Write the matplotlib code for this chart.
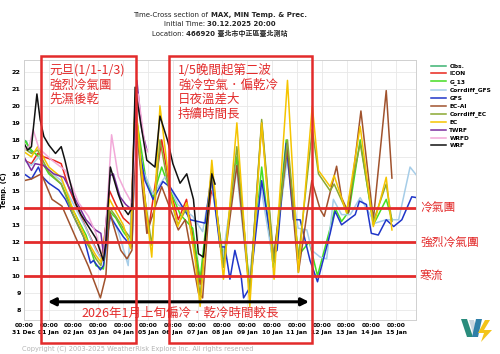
import matplotlib
matplotlib.use('Agg')
import matplotlib.pyplot as plt
from matplotlib.patches import Rectangle, Polygon

plt.rcParams['font.family'] = ['DejaVu Sans', 'Noto Sans CJK TC']
CJK = ['Noto Sans CJK TC', 'DejaVu Sans']
RED = '#e32b2b'

# x axis = days after 31 Dec 2025 00:00
tick_dates = ['31 Dec', '01 Jan', '02 Jan', '03 Jan', '04 Jan', '05 Jan', '06 Jan', '07 Jan',
              '08 Jan', '09 Jan', '10 Jan', '11 Jan', '12 Jan', '13 Jan', '14 Jan', '15 Jan']

obs_t = [0, 0.1, 0.2, 0.3]
obs_v = [18.0, 17.9, 17.5, 17.3]

icon_t = [0, 0.3, 0.55, 0.8, 1.2, 1.5, 1.8, 2.2, 2.6, 3.0, 3.15, 3.45, 3.7, 4.0, 4.3, 4.48, 4.75,
          5.0, 5.55, 5.9, 6.22, 6.55, 6.85, 7.1, 7.55, 7.7]
icon_v = [16.8, 16.6, 17.2, 17.0, 16.8, 16.6, 15.2, 13.8, 12.5, 11.3, 11.0, 15.0, 14.2, 13.4, 13.0,
          20.0, 16.5, 12.5, 18.0, 15.0, 13.3, 14.5, 12.0, 9.5, 15.0, 14.5]

g13_t = [0, 0.3, 0.6, 1.0, 1.5, 2.0, 2.5, 2.9, 3.2, 3.45, 3.7, 4.0, 4.3, 4.5, 4.9, 5.2, 5.55, 5.9,
         6.3, 6.8, 7.1, 7.55, 8.04, 8.58, 9.1, 9.58, 10.05, 10.57, 11.06, 11.5, 11.83, 12.34, 12.54,
         12.8, 13.1, 13.55, 14.08, 14.6, 14.83]
g13_v = [18.0, 17.4, 17.0, 16.0, 15.4, 13.8, 12.4, 10.6, 10.4, 13.8, 13.4, 12.6, 12.0, 19.6, 15.8,
         14.6, 16.4, 15.0, 13.6, 12.8, 9.8, 15.8, 11.0, 17.0, 9.3, 16.4, 10.5, 18.0, 11.2, 12.0, 10.0,
         12.8, 14.0, 13.2, 13.8, 18.0, 13.0, 14.5, 13.3]

cgfs_t = [0, 0.3, 0.6, 1.0, 1.5, 2.0, 2.5, 2.9, 3.2, 3.5, 3.8, 4.2, 4.5, 4.8, 5.2, 5.7, 6.2, 6.8,
          7.2, 7.55, 8.0, 8.55, 9.05, 9.55, 10.05, 10.6, 11.05, 11.4, 11.6, 11.94, 12.2, 12.47, 12.8,
          13.15, 13.55, 14.15, 14.6, 15.1, 15.56, 15.83]
cgfs_v = [16.8, 16.5, 17.0, 16.2, 15.6, 14.2, 12.8, 11.5, 10.8, 13.6, 12.6, 10.6, 18.8, 16.2, 14.8,
          15.85, 14.2, 13.5, 12.6, 15.5, 11.0, 16.5, 9.6, 15.2, 10.8, 16.8, 12.8, 12.7, 11.5, 11.1,
          11.0, 14.5, 13.6, 13.6, 14.6, 13.1, 13.3, 13.3, 16.4, 15.9]

gfs_t = [0, 0.3, 0.58, 0.73, 1.0, 1.4, 1.67, 2.07, 2.4, 2.68, 2.8, 3.08, 3.2, 3.47, 3.6, 4.0, 4.35,
         4.5, 4.7, 4.88, 5.2, 5.6, 5.9, 6.5, 6.7, 7.3, 7.55, 7.9, 8.1, 8.3, 8.5, 8.75, 8.85, 9.1,
         9.58, 10.05, 10.2, 10.57, 10.86, 11.13, 11.53, 11.83, 12.34, 12.54, 12.8, 13.35, 13.52,
         13.8, 14.0, 14.28, 14.6, 14.9, 15.23, 15.63, 15.83]
gfs_v = [16.0, 15.7, 16.4, 15.85, 15.45, 15.05, 14.5, 13.3, 12.3, 10.75, 10.9, 10.35, 10.6, 13.5,
         13.2, 12.3, 11.7, 19.0, 17.0, 15.6, 14.5, 15.55, 15.2, 13.8, 13.3, 13.1, 15.9, 11.7, 11.7,
         9.8, 11.5, 10.0, 8.7, 9.3, 15.6, 11.3, 11.5, 17.8, 13.3, 13.3, 10.9, 9.65, 12.5, 13.8,
         13.0, 13.6, 14.4, 14.2, 12.5, 12.4, 13.3, 12.9, 13.3, 14.65, 14.6]

ecai_t = [0, 0.3, 0.7, 1.13, 1.53, 2.07, 2.6, 3.08, 3.3, 3.45, 3.6, 3.9, 4.15, 4.35, 4.5, 4.95,
          5.55, 6.22, 6.5, 7.03, 7.2, 7.57, 8.04, 8.58, 9.1, 9.58, 10.05, 10.62, 11.06, 11.6, 11.94,
          12.1, 12.6, 12.8, 13.08, 13.58, 14.08, 14.6, 14.83]
ecai_v = [15.6, 15.7, 16.0, 14.5, 14.1, 12.3, 10.55, 8.7, 10.0, 13.8, 13.0, 11.5, 11.0, 11.5,
          19.2, 12.5, 15.25, 12.7, 13.3, 9.0, 8.7, 16.2, 10.5, 16.5, 9.0, 19.0, 11.0, 17.5, 10.2,
          15.6, 13.9, 13.5, 16.45, 14.6, 13.7, 19.7, 13.3, 20.9, 15.75]

ec_t = [0, 0.3, 0.55, 1.0, 1.5, 2.0, 2.5, 2.9, 3.1, 3.45, 3.7, 4.0, 4.3, 4.48, 4.75, 5.15, 5.48,
        5.9, 6.2, 6.56, 6.9, 7.1, 7.57, 8.04, 8.58, 9.1, 9.58, 10.08, 10.62, 11.06, 11.62, 11.87,
        12.34, 12.5, 13.0, 13.55, 14.08, 14.6, 14.83]
cec_v = [17.5, 17.2, 17.4, 16.1, 15.4, 13.5, 12.0, 11.0, 10.6, 14.0, 13.5, 12.8, 12.2, 19.8, 15.8,
         11.8, 18.0, 14.6, 13.0, 14.0, 11.2, 8.8, 16.3, 10.5, 17.6, 9.0, 19.2, 10.8, 18.0, 11.0,
         18.6, 16.0, 15.0, 15.4, 13.8, 17.8, 13.2, 15.4, 13.2]
ec_v = [17.3, 17.0, 17.6, 16.4, 15.8, 13.8, 12.2, 11.2, 10.8, 14.5, 13.8, 13.0, 11.6, 20.5, 16.0,
        11.1, 20.0, 14.9, 12.9, 14.3, 10.9, 8.2, 16.8, 9.8, 19.0, 8.2, 19.0, 9.8, 21.5, 10.2, 20.0,
        16.2, 15.25, 15.9, 13.7, 18.8, 12.9, 15.8, 12.7]

twrf_t = [0, 0.3, 0.45, 0.78, 1.2, 1.6, 2.07, 2.5, 2.88, 3.1, 3.2, 3.47, 3.6, 3.87, 4.1, 4.34,
          4.55, 4.75, 4.95]
twrf_v = [17.0, 16.2, 16.6, 16.5, 16.0, 15.8, 14.5, 13.3, 12.7, 12.5, 11.3, 15.9, 16.0, 14.65,
          14.2, 13.9, 21.5, 18.6, 17.4]

wrfd_t = [0, 0.2, 0.37, 0.6, 1.13, 1.4, 1.67, 2.2, 2.6, 2.9, 3.2, 3.35, 3.53, 3.8, 4.07, 4.34,
          4.6, 4.88, 4.98]
wrfd_v = [17.4, 17.6, 18.6, 17.5, 16.8, 16.5, 16.2, 14.3, 13.5, 12.5, 10.9, 14.0, 18.3, 15.85,
          15.0, 14.3, 20.7, 17.6, 17.3]

wrf_t = [0, 0.15, 0.3, 0.52, 0.65, 0.8, 1.0, 1.27, 1.5, 1.65, 1.8, 2.07, 2.3, 2.6, 2.9, 3.2, 3.3,
         3.48, 3.6, 3.8, 4.0, 4.2, 4.35, 4.48, 4.7, 4.95, 5.28, 5.48, 5.8, 6.0, 6.29, 6.56, 6.83,
         7.03, 7.23, 7.57, 7.7]
wrf_v = [17.8, 17.4, 17.6, 20.7, 19.2, 18.2, 17.7, 17.2, 17.6, 16.8, 15.85, 14.3, 13.6, 12.9, 12.2,
         10.9, 12.0, 16.4, 15.8, 14.8, 14.0, 13.6, 14.0, 21.1, 19.0, 16.8, 16.4, 19.4, 17.9, 16.6,
         15.45, 16.0, 14.5, 11.3, 11.1, 16.0, 15.4]

series = [
    ('Obs.', obs_t, obs_v, '#3cb371'),
    ('ICON', icon_t, icon_v, '#e8261c'),
    ('G_13', g13_t, g13_v, '#44dd22'),
    ('Corrdiff_GFS', cgfs_t, cgfs_v, '#a6cde8'),
    ('GFS', gfs_t, gfs_v, '#1f35c8'),
    ('EC-AI', ecai_t, ecai_v, '#a0522d'),
    ('Corrdiff_EC', ec_t, cec_v, '#8aa832'),
    ('EC', ec_t, ec_v, '#f5c400'),
    ('TWRF', twrf_t, twrf_v, '#7b2d9e'),
    ('WRFD', wrfd_t, wrfd_v, '#f2a8d8'),
    ('WRF', wrf_t, wrf_v, '#111111'),
]

levels = [14, 12, 10]
level_names = ['冷氣團', '強烈冷氣團', '寒流']

W, H = 500, 354
fig = plt.figure(figsize=(5, 3.54), dpi=100)
ax = fig.add_axes([24 / W, 1 - 320 / H, 392 / W, 260 / H])

for name, t, v, c in series:
    ax.plot(t, v, color=c, lw=1.1, label=name)

ax.set_xlim(0, 15.8)
ax.set_ylim(7.4, 22.7)
ax.set_yticks(range(8, 23))
ax.set_xticks(range(16))
ax.set_xticklabels(['00:00\n' + d for d in tick_dates], fontsize=4.3, fontweight='bold',
                   linespacing=1.4)
for lab in ax.get_yticklabels():
    lab.set_fontsize(4.6)
    lab.set_fontweight('bold')
ax.tick_params(length=0, pad=2.5)
ax.grid(color='#e8e8e8', lw=0.6)
ax.set_axisbelow(True)
for s in ax.spines.values():
    s.set_color('#d0d0d0')
    s.set_linewidth(0.7)
ax.set_ylabel('Temp. (C)', fontsize=4.8, fontweight='bold', labelpad=3)

# cold air thresholds
for lv, nm in zip(levels, level_names):
    ax.axhline(lv, color=RED, lw=2.0, zorder=5)
    ax.text(1.01, lv, nm, transform=ax.get_yaxis_transform(), color=RED, fontsize=8.5,
            family=CJK, va='center', ha='left', fontweight='medium')

ax.legend(loc='upper left', bbox_to_anchor=(1.03, 1.0), frameon=False,
          prop={'weight': 'bold', 'size': 4.2}, handlelength=2.6, labelspacing=0.45,
          borderaxespad=0.2, handletextpad=0.5)

# arrow + note
ax.annotate('', xy=(0.85, 8.47), xytext=(11.6, 8.47),
            arrowprops=dict(arrowstyle='<|-|>', color='black', lw=2.2, mutation_scale=11),
            zorder=6)
ax.text(6.3, 7.78, '2026年1月上旬偏冷．乾冷時間較長', color=RED, fontsize=9, family=CJK,
        ha='center', va='center', zorder=7)

# red boxes (figure coordinates)
for x0, x1 in [(41, 136), (169, 312)]:
    fig.add_artist(Rectangle((x0 / W, 1 - 343 / H), (x1 - x0) / W, (343 - 56) / H,
                             transform=fig.transFigure, fill=False, ec=RED, lw=1.8, zorder=10))
fig.text(49 / W, 1 - 64 / H, '元旦(1/1-1/3)\n強烈冷氣團\n先濕後乾', color=RED, fontsize=9,
         family=CJK, ha='left', va='top', linespacing=1.15)
fig.text(178 / W, 1 - 64 / H, '1/5晚間起第二波\n強冷空氣．偏乾冷\n日夜溫差大\n持續時間長', color=RED,
         fontsize=9, family=CJK, ha='left', va='top', linespacing=1.15)

# title lines with mixed weights
renderer = fig.canvas.get_renderer()
title_lines = [
    (1 - 17 / H, [('Time-Cross section of ', 'normal'), ('MAX, MIN Temp. & Prec.', 'bold')]),
    (1 - 26 / H, [('Initial Time: ', 'normal'), ('30.12.2025 20:00', 'bold')]),
    (1 - 36 / H, [('Location: ', 'normal'), ('466920 臺北市中正區臺北測站', 'bold')]),
]
for y, parts in title_lines:
    objs = [fig.text(0, y, s, fontsize=5.0, fontweight=w, color='#222222', va='baseline')
            for s, w in parts]
    widths = [o.get_window_extent(renderer).width for o in objs]
    x = 220 - sum(widths) / 2
    for o, wd in zip(objs, widths):
        o.set_x(x / W)
        x += wd

fig.text(22 / W, 1 - 349 / H,
         'Copyright (C) 2003-2025 WeatherRisk Explore Inc. All rights reserved',
         fontsize=4.8, color='#b5b5b5', va='center')

# logo
def px(pts):
    return [(a / W, 1 - b / H) for a, b in pts]

for pts, col in [([(461, 319), (467, 319), (473, 337), (467, 337)], '#2a8c7c'),
                 ([(469, 320), (474, 320), (478, 334), (473, 334)], '#c9d6e0'),
                 ([(476, 319), (482, 319), (478, 337), (472, 337)], '#2f7fa8'),
                 ([(485, 320), (490, 320), (484, 330), (492, 330), (481, 342), (484, 333),
                   (478, 333)], '#f3c419')]:
    fig.add_artist(Polygon(px(pts), closed=True, transform=fig.transFigure, fc=col, ec='none'))

fig.savefig('out.png', dpi=100)
